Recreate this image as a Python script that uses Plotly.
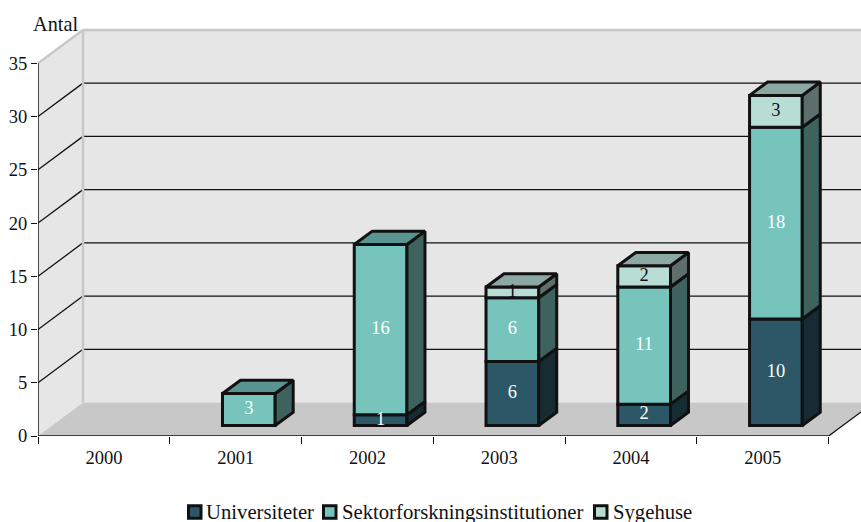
import plotly.graph_objects as go

years = ["2000", "2001", "2002", "2003", "2004", "2005"]
universiteter = [0, 0, 1, 6, 2, 10]
sektor = [0, 3, 16, 6, 11, 18]
sygehuse = [0, 0, 0, 1, 2, 3]
y_ticks = [0, 5, 10, 15, 20, 25, 30, 35]
grid_vals = [5, 10, 15, 20, 25, 30]

series = [
    ("Universiteter", universiteter, "#2C5766", "#172B33", None, "white"),
    ("Sektorforskningsinstitutioner", sektor, "#76C4BC", "#3E635F", "#5A9490", "white"),
    ("Sygehuse", sygehuse, "#B8DDD5", "#5E6F6B", "#8CA8A2", "#111111"),
]

W, H = 861, 522
ML, MT, MB = 38, 20, 86.3
PX_CAT = 131.77
PX_VAL = 10.64
XMAX = (W - ML) / PX_CAT
YMAX = (H - MT - MB) / PX_VAL
DX, DV = 45 / PX_CAT, 3.14      # depth of the room
BDX, BDV = 18 / PX_CAT, 1.25    # depth of a bar
BAR_W = 0.4
BAR_SHIFT, BAR_BASE = 0.1, 0.99
LW = 3
FONT = "Liberation Serif"
INK = "#111111"
WALL, FLOOR = "#E6E6E6", "#C8C8C8"

fig = go.Figure()
shapes = []


def poly(xs, ys, fill):
    path = "M" + "L".join(f"{a},{b}" for a, b in zip(xs, ys)) + "Z"
    return dict(type="path", path=path, xref="x", yref="y", fillcolor=fill,
                line=dict(width=0), layer="below")


def seg(x0, y0, x1, y1, color=INK, width=1.3):
    return dict(type="line", x0=x0, y0=y0, x1=x1, y1=y1, xref="x", yref="y",
                line=dict(color=color, width=width), layer="below")


top_v = y_ticks[-1]
shapes.append(poly([0, DX, DX, 0], [0, DV, top_v + DV, top_v], WALL))
shapes.append(poly([DX, XMAX + 1, XMAX + 1, DX], [DV, DV, top_v + DV, top_v + DV], WALL))
shapes.append(poly([0, DX, 6 + DX, 6], [0, DV, DV, 0], FLOOR))
for v in grid_vals:
    shapes.append(seg(0, v, DX, v + DV))
    shapes.append(seg(DX, v + DV, XMAX + 1, v + DV))
shapes.append(seg(6, 0, 6 + DX, DV))
shapes.append(seg(0, top_v, DX, top_v + DV, FLOOR, 2.5))
shapes.append(seg(DX, top_v + DV, XMAX + 1, top_v + DV, FLOOR, 2.5))
shapes.append(seg(DX, DV, DX, top_v + DV, FLOOR, 2.5))

centres = [i + 0.5 + BAR_SHIFT for i in range(len(years))]

# front faces
cum = [BAR_BASE] * len(years)
tiers = []
for name, vals, col, side, top, txt in series:
    idx = [i for i, v in enumerate(vals) if v > 0]
    fig.add_trace(go.Bar(
        x=[centres[i] for i in idx], y=[vals[i] for i in idx],
        base=[cum[i] for i in idx], width=BAR_W, name=name, showlegend=False,
        marker=dict(color=col, line=dict(color=INK, width=LW)),
        hoverinfo="skip"))
    tiers.append((idx, list(cum), vals, side, top, txt))
    cum = [c + v for c, v in zip(cum, vals)]

# side faces
for idx, base, vals, side, top, txt in tiers:
    for i in idx:
        xr = centres[i] + BAR_W / 2
        b, t = base[i], base[i] + vals[i]
        fig.add_trace(go.Scatter(
            x=[xr, xr + BDX, xr + BDX, xr, xr], y=[b, b + BDV, t + BDV, t, b],
            mode="lines", fill="toself", fillcolor=side,
            line=dict(color=INK, width=LW), showlegend=False, hoverinfo="skip"))

# top faces
for i in range(len(years)):
    owner = [t for t in tiers if i in t[0]]
    if not owner:
        continue
    idx, base, vals, side, top, txt = owner[-1]
    xl, xr, t = centres[i] - BAR_W / 2, centres[i] + BAR_W / 2, base[i] + vals[i]
    fig.add_trace(go.Scatter(
        x=[xl, xl + BDX, xr + BDX, xr, xl], y=[t, t + BDV, t + BDV, t, t],
        mode="lines", fill="toself", fillcolor=top,
        line=dict(color=INK, width=LW), showlegend=False, hoverinfo="skip"))

# value labels
for idx, base, vals, side, top, txt in tiers:
    fig.add_trace(go.Scatter(
        x=[centres[i] for i in idx], y=[base[i] + vals[i] / 2 for i in idx],
        text=[str(vals[i]) for i in idx], mode="text", textposition="middle center",
        textfont=dict(family=FONT, size=18.5, color=txt),
        showlegend=False, hoverinfo="skip"))

# axis lines
fig.add_trace(go.Scatter(x=[0, 0], y=[0, top_v], mode="lines", cliponaxis=False,
                         line=dict(color=INK, width=1.5), showlegend=False, hoverinfo="skip"))
fig.add_trace(go.Scatter(x=[0, 6], y=[0, 0], mode="lines", cliponaxis=False,
                         line=dict(color=INK, width=1.5), showlegend=False, hoverinfo="skip"))


def px(p):
    return (p - ML) / (W - ML)


def py(p):
    return (H - MB - p) / (H - MT - MB)


annotations = [dict(text="Antal", xref="paper", yref="paper", x=px(30.5), y=py(24),
                    xanchor="left", yanchor="middle", showarrow=False,
                    font=dict(family=FONT, size=20.3, color=INK))]
for (name, vals, col, *_), sx, tx in zip(series, [188.5, 323.5, 594.5], [204, 340, 610.5]):
    shapes.append(dict(type="rect", xref="paper", yref="paper",
                       x0=px(sx), x1=px(sx + 12.5), y0=py(518), y1=py(505.5),
                       fillcolor=col, line=dict(color=INK, width=LW), layer="above"))
    annotations.append(dict(text=name, xref="paper", yref="paper", x=px(tx), y=py(512),
                            xanchor="left", yanchor="middle", showarrow=False,
                            font=dict(family=FONT, size=20.7, color=INK)))

fig.update_layout(
    width=W, height=H, barmode="overlay", showlegend=False,
    margin=dict(l=ML, r=0, t=MT, b=MB, pad=0),
    paper_bgcolor="white", plot_bgcolor="white",
    font=dict(family=FONT, color=INK),
    shapes=shapes, annotations=annotations,
    xaxis=dict(range=[0, XMAX], showgrid=False, zeroline=False, showline=False,
               tickmode="array", tickvals=[i + 0.5 for i in range(len(years))],
               ticktext=years, ticks="", tickfont=dict(size=18.5, family=FONT, color=INK),
               ticklabelstandoff=8,
               minor=dict(tickmode="array", tickvals=list(range(len(years) + 1)),
                          ticks="outside", ticklen=7, tickwidth=1.3, tickcolor=INK, showgrid=False)),
    yaxis=dict(range=[0, YMAX], showgrid=False, zeroline=False, showline=False,
               tickmode="array", tickvals=y_ticks, ticks="outside", ticklen=6,
               tickwidth=1.3, tickcolor=INK, tickfont=dict(size=18.5, family=FONT, color=INK)),
)

fig.write_html("out.html", config=dict(displayModeBar=False),
               post_script="document.body.style.margin='0';")
